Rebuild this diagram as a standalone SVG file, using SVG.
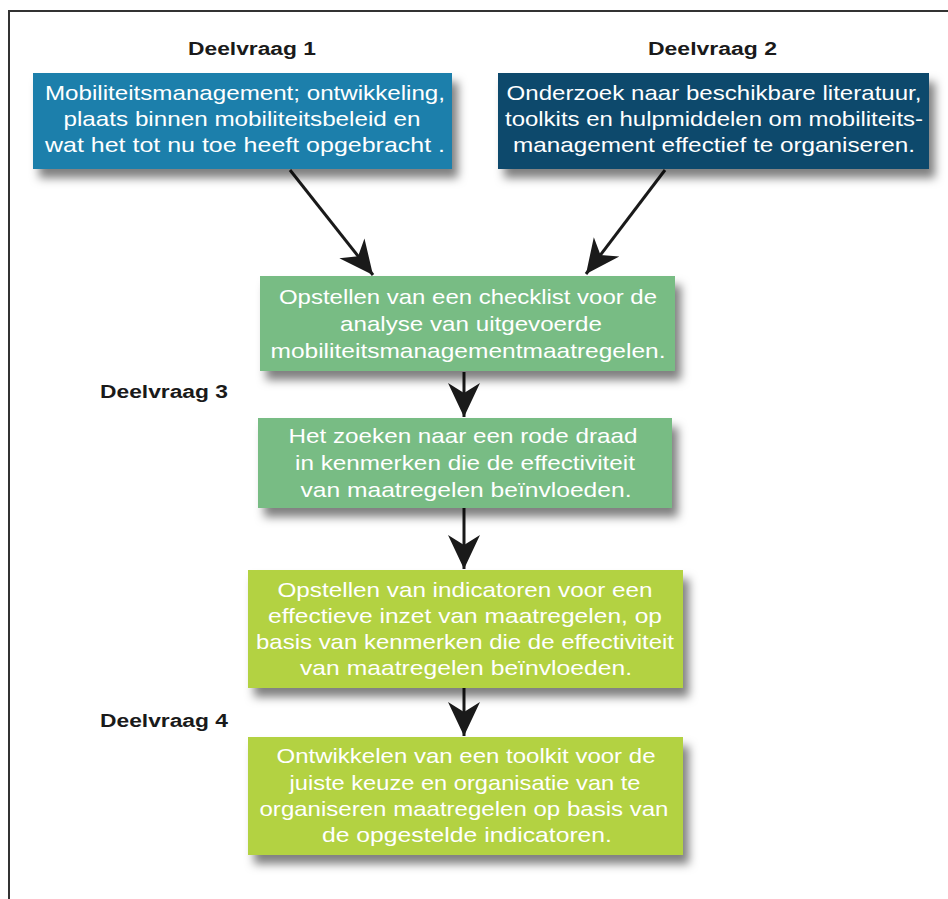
<svg xmlns="http://www.w3.org/2000/svg" width="948" height="899" viewBox="0 0 948 899">
<style>
.lbl{font-family:"Liberation Sans",Arial,sans-serif;font-weight:bold;font-size:18px;fill:#1a1a1a}
.bt{font-family:"Liberation Sans",Arial,sans-serif;font-size:21px;fill:#ffffff;text-anchor:middle}
.con{stroke:#1a1a1a;stroke-width:3;fill:none}
</style>
<defs>
<filter id="sh" x="-10%" y="-20%" width="125%" height="160%">
<feDropShadow dx="6" dy="9" stdDeviation="5" flood-color="#000" flood-opacity="0.5"/>
</filter>
<marker id="ah" markerUnits="userSpaceOnUse" markerWidth="40" markerHeight="40" viewBox="-36 -18 40 36" refX="0" refY="0" orient="auto">
<path d="M0,0 L-34,-16 L-24,0 L-34,16 Z" fill="#1a1a1a"/>
</marker>
</defs>
<rect width="948" height="899" fill="#ffffff"/>
<path d="M9,899 V11 H948" fill="none" stroke="#333333" stroke-width="2"/>

<g id="labels">
<text class="lbl" x="188" y="55" textLength="128" lengthAdjust="spacingAndGlyphs">Deelvraag 1</text>
<text class="lbl" x="648" y="55" textLength="129" lengthAdjust="spacingAndGlyphs">Deelvraag 2</text>
<text class="lbl" x="100" y="398" textLength="128" lengthAdjust="spacingAndGlyphs">Deelvraag 3</text>
<text class="lbl" x="100" y="727" textLength="128" lengthAdjust="spacingAndGlyphs">Deelvraag 4</text>
</g>

<g id="connectors">
<line class="con" x1="290" y1="170" x2="373" y2="275" marker-end="url(#ah)"/>
<line class="con" x1="665" y1="170" x2="586" y2="274" marker-end="url(#ah)"/>
<line class="con" x1="464" y1="372" x2="464" y2="417" marker-end="url(#ah)"/>
<line class="con" x1="464" y1="508" x2="464" y2="569" marker-end="url(#ah)"/>
<line class="con" x1="464" y1="688" x2="464" y2="736" marker-end="url(#ah)"/>
</g>

<g id="node1">
<rect x="33" y="73" width="419" height="96" fill="#1b7fab" filter="url(#sh)"/>
<text class="bt" x="245" y="100" textLength="400" lengthAdjust="spacingAndGlyphs">Mobiliteitsmanagement; ontwikkeling,</text>
<text class="bt" x="242" y="126" textLength="357" lengthAdjust="spacingAndGlyphs">plaats binnen mobiliteitsbeleid en</text>
<text class="bt" x="245" y="152" textLength="400" lengthAdjust="spacingAndGlyphs">wat het tot nu toe heeft opgebracht .</text>
</g>

<g id="node2">
<rect x="498" y="73" width="431" height="96" fill="#0f4a6c" filter="url(#sh)"/>
<text class="bt" x="714" y="100" textLength="415" lengthAdjust="spacingAndGlyphs">Onderzoek naar beschikbare literatuur,</text>
<text class="bt" x="714" y="126" textLength="418" lengthAdjust="spacingAndGlyphs">toolkits en hulpmiddelen om mobiliteits-</text>
<text class="bt" x="714" y="152" textLength="402" lengthAdjust="spacingAndGlyphs">management effectief te organiseren.</text>
</g>

<g id="node3">
<rect x="260" y="276" width="415" height="95" fill="#78bc84" filter="url(#sh)"/>
<text class="bt" x="468" y="304" textLength="378" lengthAdjust="spacingAndGlyphs">Opstellen van een checklist voor de</text>
<text class="bt" x="471" y="331" textLength="262" lengthAdjust="spacingAndGlyphs">analyse van uitgevoerde</text>
<text class="bt" x="468" y="358" textLength="395" lengthAdjust="spacingAndGlyphs">mobiliteitsmanagementmaatregelen.</text>
</g>

<g id="node4">
<rect x="258" y="418" width="414" height="90" fill="#78bc84" filter="url(#sh)"/>
<text class="bt" x="463" y="443" textLength="349" lengthAdjust="spacingAndGlyphs">Het zoeken naar een rode draad</text>
<text class="bt" x="465" y="470" textLength="340" lengthAdjust="spacingAndGlyphs">in kenmerken die de effectiviteit</text>
<text class="bt" x="466" y="497" textLength="331" lengthAdjust="spacingAndGlyphs">van maatregelen beïnvloeden.</text>
</g>

<g id="node5">
<rect x="248" y="570" width="435" height="118" fill="#b3d243" filter="url(#sh)"/>
<text class="bt" x="465" y="597" textLength="375" lengthAdjust="spacingAndGlyphs">Opstellen van indicatoren voor een</text>
<text class="bt" x="465" y="623" textLength="394" lengthAdjust="spacingAndGlyphs">effectieve inzet van maatregelen, op</text>
<text class="bt" x="465" y="649" textLength="418" lengthAdjust="spacingAndGlyphs">basis van kenmerken die de effectiviteit</text>
<text class="bt" x="466" y="675" textLength="332" lengthAdjust="spacingAndGlyphs">van maatregelen beïnvloeden.</text>
</g>

<g id="node6">
<rect x="248" y="737" width="435" height="118" fill="#b3d243" filter="url(#sh)"/>
<text class="bt" x="466" y="763" textLength="379" lengthAdjust="spacingAndGlyphs">Ontwikkelen van een toolkit voor de</text>
<text class="bt" x="465" y="790" textLength="351" lengthAdjust="spacingAndGlyphs">juiste keuze en organisatie van te</text>
<text class="bt" x="464" y="816" textLength="409" lengthAdjust="spacingAndGlyphs">organiseren maatregelen op basis van</text>
<text class="bt" x="467" y="842" textLength="290" lengthAdjust="spacingAndGlyphs">de opgestelde indicatoren.</text>
</g>
</svg>
